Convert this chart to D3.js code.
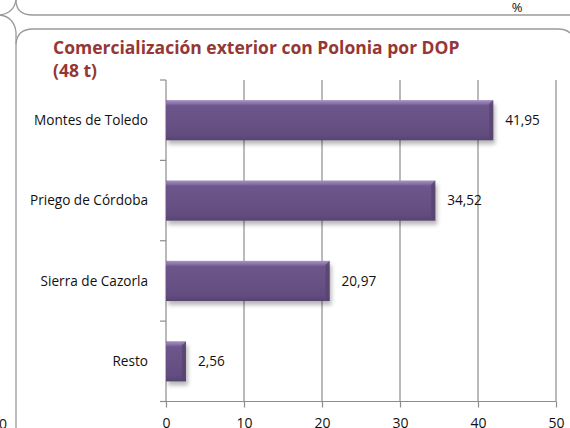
<!DOCTYPE html>
<html><head><meta charset="utf-8">
<script src="https://cdn.jsdelivr.net/npm/d3@7"></script>
<style>
html,body{margin:0;padding:0;background:#fff;}
svg{display:block;}
text{font-family:"Open Sans",sans-serif;}
</style></head>
<body>
<svg id="c" width="570" height="428"></svg>
<script>
const categories = ["Montes de Toledo","Priego de Córdoba","Sierra de Cazorla","Resto"];
const values = [41.95, 34.52, 20.97, 2.56];
const valueLabels = ["41,95","34,52","20,97","2,56"];
const xTicks = [0,10,20,30,40,50];
const titleLines = ["Comercialización exterior con Polonia por DOP","(48 t)"];

const svg = d3.select("#c");
const frame = "#9a9a9a";

// decorative panel frames
svg.append("path").attr("d","M16,0 Q16,15 33,15 L570,15").attr("fill","none").attr("stroke",frame).attr("stroke-width",1.3);
svg.append("path").attr("d","M0,15 Q14,13 16,0").attr("fill","none").attr("stroke",frame).attr("stroke-width",1.3);
svg.append("path").attr("d","M0,15 Q14,17 16,32 L16,428").attr("fill","none").attr("stroke",frame).attr("stroke-width",1.3);
svg.append("path").attr("d","M16,44 Q17,29 33,29 L558,29 Q566,29 570,33").attr("fill","none").attr("stroke",frame).attr("stroke-width",1.3);
svg.append("text").attr("x",517).attr("y",12).attr("text-anchor","middle").attr("font-size",13).attr("fill","#111").text("%");
svg.append("text").attr("x",7).attr("y",429).attr("text-anchor","end").attr("font-size",14).attr("fill","#111").text("0");

// title
const title = svg.append("text").attr("x",53).attr("y",54).attr("fill","#953735").attr("font-weight","bold").attr("font-size",17.5);
titleLines.forEach((t,i)=>title.append("tspan").attr("x",53).attr("dy", i===0?0:23).text(t));

const x = d3.scaleLinear().domain([0,50]).range([166,556]);
const y = d3.scaleBand().domain(categories).range([80,401.5]).paddingInner(0.5).paddingOuter(0.25);

const axisCol = "#8c8c8c";
// gridlines
svg.append("g").selectAll("line").data(xTicks.slice(1)).join("line")
  .attr("x1",d=>x(d)).attr("x2",d=>x(d)).attr("y1",80).attr("y2",401.5)
  .attr("stroke",axisCol).attr("stroke-width",1.2);

// x axis
const xa = svg.append("g").attr("transform","translate(0,401.5)")
  .call(d3.axisBottom(x).tickValues(xTicks).tickSize(6).tickPadding(11).tickFormat(d3.format("d")));
xa.select(".domain").attr("stroke",axisCol).attr("stroke-width",1.2).attr("d","M160,0H556");
xa.selectAll(".tick line").attr("stroke",axisCol).attr("stroke-width",1.2);
xa.selectAll(".tick text").attr("font-size",14).attr("fill","#111").attr("font-family","Open Sans, sans-serif");

// y axis
svg.append("line").attr("x1",166).attr("x2",166).attr("y1",80).attr("y2",401.5).attr("stroke",axisCol).attr("stroke-width",1.2);
const bounds = d3.range(categories.length+1).map(i=>y.range()[0]+i*y.step());
svg.append("g").selectAll("line").data(bounds).join("line")
  .attr("x1",160).attr("x2",166).attr("y1",d=>d).attr("y2",d=>d).attr("stroke",axisCol).attr("stroke-width",1.2);

svg.append("g").selectAll("text").data(categories).join("text")
  .attr("x",148).attr("y",d=>y(d)+y.bandwidth()/2).attr("dy","0.35em")
  .attr("text-anchor","end").attr("font-size",13.6).attr("fill","#111").text(d=>d);

// bar defs
const defs = svg.append("defs");
const g = defs.append("linearGradient").attr("id","bg").attr("x1",0).attr("x2",0).attr("y1",0).attr("y2",1);
[[0,"#a892c4"],[0.08,"#8a73a8"],[0.14,"#6d568b"],[0.85,"#634d80"],[1,"#574372"]].forEach(s=>g.append("stop").attr("offset",s[0]).attr("stop-color",s[1]));
const f = defs.append("filter").attr("id","sh").attr("x","-10%").attr("y","-20%").attr("width","130%").attr("height","160%");
f.append("feGaussianBlur").attr("stdDeviation",2);

const bars = svg.append("g").selectAll("g").data(categories).join("g");
bars.append("rect").attr("x",x(0)+2).attr("y",d=>y(d)+4).attr("width",(d,i)=>x(values[i])-x(0)).attr("height",y.bandwidth())
  .attr("fill","#000").attr("opacity",0.28).attr("filter","url(#sh)");
bars.append("rect").attr("x",x(0)).attr("y",d=>y(d)).attr("width",(d,i)=>x(values[i])-x(0)).attr("height",y.bandwidth())
  .attr("fill","url(#bg)");
bars.append("path").attr("d",(d,i)=>{const xe=x(values[i]), y0=y(d), h=y.bandwidth();
  return `M${xe-4},${y0+4}L${xe},${y0}L${xe},${y0+h}L${xe-4},${y0+h-3}Z`;}).attr("fill","#58436f").attr("opacity",0.8);
bars.append("path").attr("d",(d,i)=>{const y0=y(d);
  return `M${x(0)+4},${y0+4}L${x(0)},${y0}`;}).attr("stroke","#8a75a6").attr("stroke-width",1);

svg.append("g").selectAll("text").data(categories).join("text")
  .attr("x",(d,i)=>x(values[i])+12).attr("y",d=>y(d)+y.bandwidth()/2).attr("dy","0.35em")
  .attr("font-size",13.6).attr("fill","#111").text((d,i)=>valueLabels[i]);
</script>
</body></html>
